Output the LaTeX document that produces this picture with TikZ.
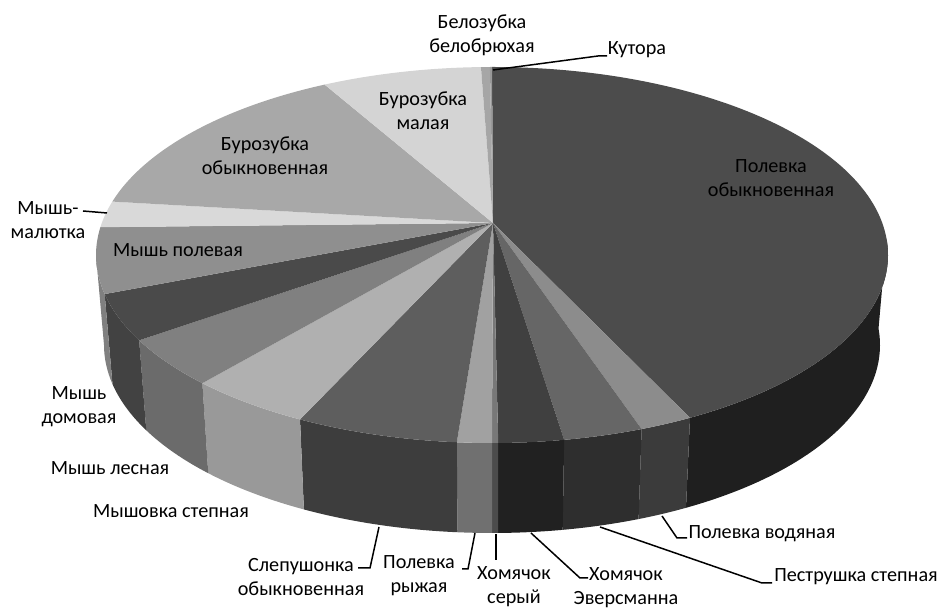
\documentclass[tikz,border=0pt]{standalone}
\usepackage{fontspec}
\setmainfont{Carlito}
\usetikzlibrary{calc}

\begin{document}
\begin{tikzpicture}[x=0.02cm, y=0.02cm,
  every node/.style = {align=center, inner sep=1pt,
    font=\fontsize{11.5}{13.7}\selectfont},
  leader/.style = {draw=black, line width=0.85pt}]
  \useasboundingbox (0,0) rectangle (941,608);
  % upper rim, lower rim and the tip where the slices meet
  \coordinate (top) at (492,353);
  \coordinate (bot) at (492,263);
  \coordinate (tip) at (493,385);

  % sides, front half only
  \foreach \a/\b/\g in {5/-60/12, -60/-67.8/23, -67.8/-79.5/18, -79.5/-89.1/13,
      -89.1/-90/30, -90/-95.1/44, -95.1/-119/24, -119/-137/60, -137/-153/42,
      -153/-168/26, -168/-180/50}
    \fill[white!\g!black] ([shift={(\a:396 and 188)}]top)
      arc[start angle=\a, end angle=\b, x radius=396, y radius=188]
      -- ([shift={(\b:388 and 188)}]bot)
      arc[start angle=\b, end angle=\a, x radius=388, y radius=188] -- cycle;

  % tops of the slices
  \foreach \a/\b/\g in {90/-60/30, -60/-67.8/55, -67.8/-79.5/40, -79.5/-89.1/25,
      -89.1/-90/47, -90/-95.1/63, -95.1/-119/37, -119/-137/69, -137/-153/50,
      -153/-168/29, -168/-188.5/56, -188.5/-196.5/85, -196.5/-245/66,
      -245/-268.4/83, -268.4/-269.7/65, -269.7/-270/60}
    \fill[white!\g!black] (tip) -- ([shift={(\a:396 and 188)}]top)
      arc[start angle=\a, end angle=\b, x radius=396, y radius=188] -- cycle;

  % labels
  \node (polObyk) at (771,430) {Полевка\\обыкновенная};
  \node (burObyk) at (265,452) {Бурозубка\\обыкновенная};
  \node (burMal) at (423,497) {Бурозубка\\малая};
  \node (belozub) at (482,573) {Белозубка\\белобрюхая};
  \node (kutora) at (637,558) {Кутора};
  \node (malyutka) at (48,388) {Мышь-\\малютка};
  \node (myshPol) at (178,358) {Мышь полевая};
  \node (myshDom) at (79,201) {Мышь\\домовая};
  \node (myshLes) at (110,140) {Мышь лесная};
  \node (myshovka) at (171,97) {Мышовка степная};
  \node (slep) at (301,31) {Слепушонка\\обыкновенная};
  \node (polRyzh) at (419,32) {Полевка\\рыжая};
  \node (homSer) at (514,21) {Хомячок\\серый};
  \node (homEv) at (626,20) {Хомячок\\Эверсманна};
  \node (pestr) at (856,31) {Пеструшка степная};
  \node (polVod) at (762,74) {Полевка водяная};

  % leader lines
  \coordinate (kutoraPt) at (493,538);
  \coordinate (malyutkaPt) at (107,395);
  \coordinate (slepPt) at (379,81);
  \coordinate (polRyzhPt) at (475,75);
  \coordinate (homSerPt) at (496,74);
  \coordinate (homEvPt) at (531,75);
  \coordinate (pestrPt) at (600,81);
  \coordinate (polVodPt) at (662,92);
  \draw[leader] (kutoraPt) -- ($(kutora)+(-39,-6)$) -- ($(kutora)+(-30,-6)$);
  \draw[leader] (malyutkaPt) -- ($(malyutka)+(35,9)$);
  \draw[leader] (slepPt) -- ($(slep)+(69,9)$) -- ($(slep)+(57,9)$);
  \draw[leader] (polRyzhPt) -- ($(polRyzh)+(49,7)$) -- ($(polRyzh)+(43,7)$);
  \draw[leader] (homSerPt) -- ($(homSer)+(-18,27)$);
  \draw[leader] (homEvPt) -- ($(homEv)+(-46,10)$) -- ($(homEv)+(-38,10)$);
  \draw[leader] (pestrPt) -- ($(pestr)+(-94,-6)$) -- ($(pestr)+(-84,-6)$);
  \draw[leader] (polVodPt) -- ($(polVod)+(-85,-4)$) -- ($(polVod)+(-75,-4)$);
\end{tikzpicture}
\end{document}
